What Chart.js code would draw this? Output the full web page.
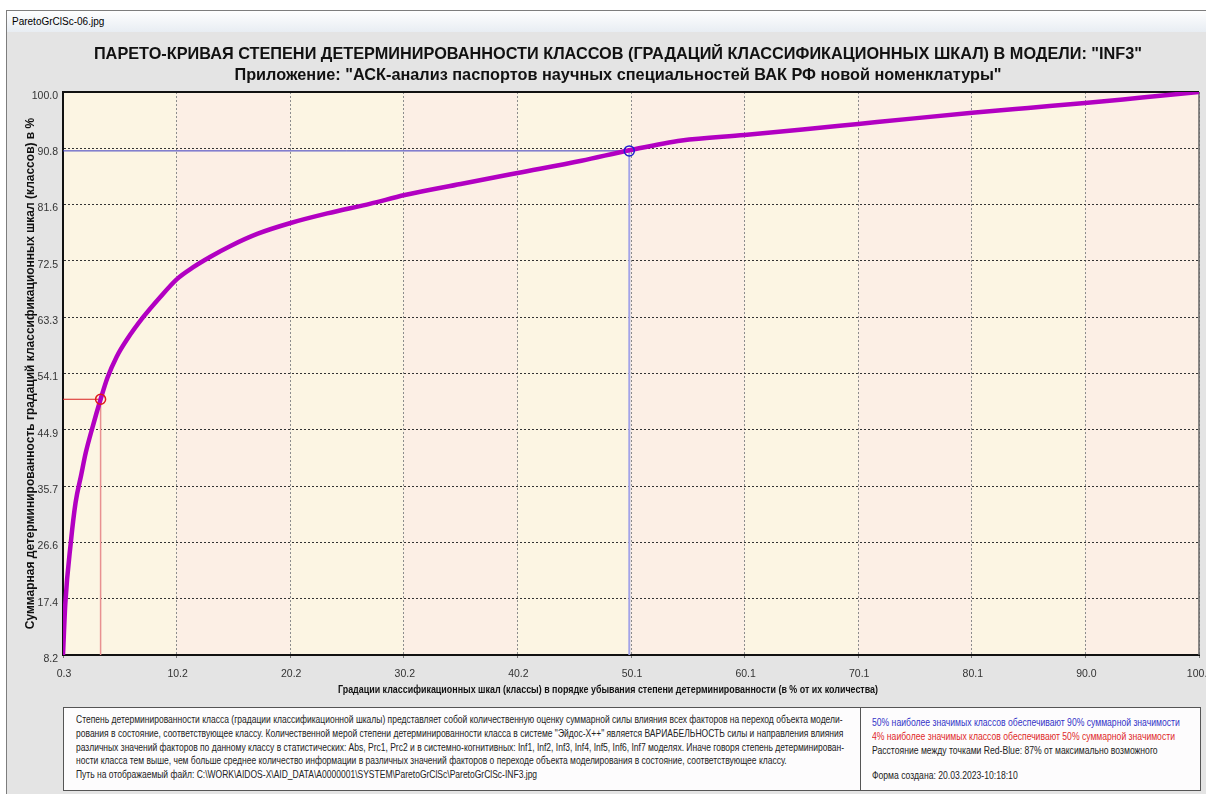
<!DOCTYPE html>
<html lang="ru">
<head>
  <meta charset="UTF-8">
  <title>ParetoGrClSc-06.jpg</title>
  <script src="https://cdn.jsdelivr.net/npm/chart.js"></script>
  <style>
    body { margin: 0; width: 1206px; height: 794px; overflow: hidden; position: relative; background: #fff;
           font-family: "Liberation Sans", Arial, sans-serif; }
    #frame { position: absolute; left: 6px; top: 10px; width: 1200px; height: 784px; background: #e4e4e4;
             border-left: 1px solid #7d7d7d; border-top: 1px solid #7d7d7d; }
    #bar { position: absolute; left: 7px; top: 11px; width: 1194px; height: 21px; padding-left: 5px;
           background: linear-gradient(#fefefe, #e8edf3); font-size: 10px; line-height: 21px; color: #000; }
    canvas { position: absolute; left: 0; top: 0; }
    .box { position: absolute; top: 707px; height: 84px; box-sizing: border-box; background: #fdfcfd; overflow: hidden;
           border: 1px solid #555; font-size: 10.5px; white-space: nowrap; color: #222; }
    .box div { transform: scaleX(0.82); transform-origin: 0 0; }
    #note div { transform: scaleX(0.81); }
    #note { left: 63px; width: 798px; padding: 5px 0 0 12px; line-height: 13.75px; }
    #stats { left: 860px; width: 341px; padding: 7px 0 0 11px; line-height: 14px; }
    .blue { color: #3434c8; }
    .red { color: #e02a2a; }
    .gap { margin-top: 11px; }
  </style>
</head>
<body>
  <div id="frame"></div>
  <div id="bar">ParetoGrClSc-06.jpg</div>
  <canvas id="pareto" width="1206" height="794"></canvas>

  <div id="note" class="box">
    <div>Степень детерминированности класса (градации классификационной шкалы) представляет собой количественную оценку суммарной силы влияния всех факторов на переход объекта модели-</div>
    <div>рования в состояние, соответствующее классу. Количественной мерой степени детерминированности класса в системе "Эйдос-X++" является ВАРИАБЕЛЬНОСТЬ силы и направления влияния</div>
    <div>различных значений факторов по данному классу в статистических: Abs, Prc1, Prc2 и в системно-когнитивных: Inf1, Inf2, Inf3, Inf4, Inf5, Inf6, Inf7 моделях. Иначе говоря степень детерминирован-</div>
    <div>ности класса тем выше, чем больше среднее количество информации в различных значений факторов о переходе объекта моделирования в состояние, соответствующее классу.</div>
    <div>Путь на отображаемый файл: C:\WORK\AIDOS-X\AID_DATA\A0000001\SYSTEM\ParetoGrClSc\ParetoGrClSc-INF3.jpg</div>
  </div>
  <div id="stats" class="box">
    <div class="blue">50% наиболее значимых классов обеспечивают 90% суммарной значимости</div>
    <div class="red">4% наиболее значимых классов обеспечивают 50% суммарной значимости</div>
    <div>Расстояние между точками Red-Blue: 87% от максимально возможного</div>
    <div class="gap">Форма создана: 20.03.2023-10:18:10</div>
  </div>

  <script>
    // Парето-кривая: % классов -> суммарный % детерминированности
    const classPct = [0.3, 0.5, 1.0, 1.4, 1.9, 2.3, 2.9, 3.6, 4.2, 5.0, 5.9, 7.3, 8.8, 10.3, 11.7, 13.2, 15.0, 17.4,
                      20.2, 23.5, 27.3, 30.3, 35.2, 40.2, 45.8, 50.0, 54.6, 60.1, 65.2, 70.1, 75.0, 80.1, 85.0, 90.0, 95.0, 100.0];
    const cumPct   = [8.2, 16.5, 26.8, 33.0, 37.6, 41.2, 45.4, 49.9, 53.4, 56.8, 59.6, 63.2, 66.5, 69.5, 71.4, 73.1, 74.9, 76.9,
                      78.6, 80.2, 81.8, 83.2, 85.0, 86.8, 88.8, 90.5, 92.1, 93.0, 93.9, 94.8, 95.7, 96.6, 97.4, 98.2, 99.1, 100.0];

    // точки Red (50% значимости) и Blue (90% значимости)
    const redPoint  = [3.6, 49.9];
    const bluePoint = [50.0, 90.4];

    const xTickLabels = ['0.3', '10.2', '20.2', '30.2', '40.2', '50.1', '60.1', '70.1', '80.1', '90.0', '100.0'];
    const yTickLabels = ['8.2', '17.4', '26.6', '35.7', '44.9', '54.1', '63.3', '72.5', '81.6', '90.8', '100.0'];

    const titleLines = [
      'ПАРЕТО-КРИВАЯ СТЕПЕНИ ДЕТЕРМИНИРОВАННОСТИ КЛАССОВ (ГРАДАЦИЙ КЛАССИФИКАЦИОННЫХ ШКАЛ) В МОДЕЛИ: "INF3"',
      'Приложение: "АСК-анализ паспортов научных специальностей ВАК РФ новой номенклатуры"'
    ];
    const yTitle = 'Суммарная детерминированность градаций классификационных шкал (классов) в %';
    const xTitle = 'Градации классификационных шкал (классы) в порядке убывания степени детерминированности (в % от их количества)';

    const sans = '"Liberation Sans", Arial, sans-serif';
    const xMin = parseFloat(xTickLabels[0]), xMax = parseFloat(xTickLabels[xTickLabels.length - 1]);
    const yMin = parseFloat(yTickLabels[0]), yMax = parseFloat(yTickLabels[yTickLabels.length - 1]);

    // равномерные деления как в оригинале
    function evenTicks(labels) {
      return function (scale) {
        const n = labels.length - 1;
        scale.ticks = labels.map((l, i) => ({ value: scale.min + i * (scale.max - scale.min) / n }));
      };
    }

    const paretoDecor = {
      id: 'paretoDecor',
      beforeDraw(chart) {
        const { ctx, chartArea: a, scales: { x } } = chart;
        ctx.save();
        for (let i = 0; i < x.ticks.length - 1; i++) {
          const x0 = x.getPixelForValue(x.ticks[i].value);
          const x1 = x.getPixelForValue(x.ticks[i + 1].value);
          ctx.fillStyle = i % 2 ? '#fcefe5' : '#fcf5e3';
          ctx.fillRect(x0, a.top, x1 - x0, a.bottom - a.top);
        }
        ctx.restore();
      },
      beforeDatasetsDraw(chart) {
        const { ctx, chartArea: a } = chart;
        ctx.save();
        ctx.strokeStyle = '#111';
        ctx.lineWidth = 2;
        ctx.beginPath();
        ctx.moveTo(a.left, a.top);
        ctx.lineTo(a.right, a.top);
        ctx.stroke();
        ctx.strokeStyle = '#666';
        ctx.lineWidth = 1.5;
        ctx.beginPath();
        ctx.moveTo(a.right, a.top);
        ctx.lineTo(a.right, a.bottom);
        ctx.stroke();
        ctx.restore();
      },
      afterDraw(chart) {
        const { ctx } = chart;
        ctx.save();
        ctx.fillStyle = '#111';
        ctx.textAlign = 'center';
        ctx.textBaseline = 'middle';
        ctx.font = 'bold 16.3px ' + sans;
        ctx.fillText(titleLines[0], 618, 55);
        ctx.fillText(titleLines[1], 618, 76);
        ctx.font = 'bold 11px ' + sans;
        ctx.fillText(xTitle, 608, 690, 540);
        ctx.restore();
      }
    };

    const line = (pts, color, width) => ({
      type: 'line', data: pts, borderColor: color, borderWidth: width,
      pointRadius: 0, fill: false, tension: 0
    });

    new Chart(document.getElementById('pareto'), {
      type: 'line',
      data: {
        datasets: [
          {
            type: 'scatter',
            data: [{ x: redPoint[0], y: redPoint[1] }],
            pointRadius: 5, pointBorderWidth: 1.5, pointBorderColor: '#e01818', pointBackgroundColor: 'rgba(0,0,0,0)'
          },
          {
            type: 'scatter',
            data: [{ x: bluePoint[0], y: bluePoint[1] }],
            pointRadius: 5, pointBorderWidth: 1.5, pointBorderColor: '#2020d0', pointBackgroundColor: 'rgba(0,0,0,0)'
          },
          {
            data: classPct.map((v, i) => ({ x: v, y: cumPct[i] })),
            borderColor: '#b200c2', borderWidth: 4.5, pointRadius: 0,
            cubicInterpolationMode: 'monotone', fill: false
          },
          line([{ x: xMin, y: redPoint[1] }, { x: redPoint[0], y: redPoint[1] }], '#d82020', 1),
          line([{ x: redPoint[0], y: redPoint[1] }, { x: redPoint[0], y: yMin }], '#e89090', 1.5),
          line([{ x: xMin, y: bluePoint[1] }, { x: bluePoint[0], y: bluePoint[1] }], '#3838c0', 1),
          line([{ x: bluePoint[0], y: bluePoint[1] }, { x: bluePoint[0], y: yMin }], '#a4a4e8', 2)
        ]
      },
      options: {
        responsive: false,
        animation: false,
        devicePixelRatio: 1,
        layout: { autoPadding: false, padding: { top: 92, left: 0, right: 7, bottom: 94 } },
        plugins: {
          legend: { display: false },
          tooltip: { enabled: false },
          title: { display: false }
        },
        scales: {
          x: {
            type: 'linear',
            position: 'bottom',
            min: xMin, max: xMax,
            afterBuildTicks: evenTicks(xTickLabels),
            afterFit: s => { s.height = 45; s.paddingLeft = 0; s.paddingRight = 0; },
            ticks: {
              autoSkip: false, maxRotation: 0, padding: 8, labelOffset: 1,
              color: '#333', font: { family: sans, size: 10.5 },
              callback: (v, i) => xTickLabels[i]
            },
            grid: { color: '#8c8c8c', lineWidth: 1, tickLength: 5, tickColor: '#777', tickBorderDash: [2, 2] },
            border: { display: true, color: '#111', width: 2, dash: [2, 2] }
          },
          y: {
            type: 'linear',
            min: yMin, max: yMax,
            afterBuildTicks: evenTicks(yTickLabels),
            afterFit: s => { s.width = 63; s.paddingTop = 0; s.paddingBottom = 0; },
            ticks: {
              autoSkip: false, padding: 5, labelOffset: 4,
              color: '#333', font: { family: sans, size: 10.5 },
              callback: (v, i) => yTickLabels[i]
            },
            grid: { color: '#333', lineWidth: 1, drawTicks: false },
            border: { display: true, color: '#111', width: 2, dash: [2, 2] },
            title: {
              display: true, text: yTitle, color: '#111',
              font: { family: sans, size: 12, weight: 'bold' },
              padding: { top: 23, bottom: 0 }
            }
          }
        }
      },
      plugins: [paretoDecor]
    });
  </script>
</body>
</html>
